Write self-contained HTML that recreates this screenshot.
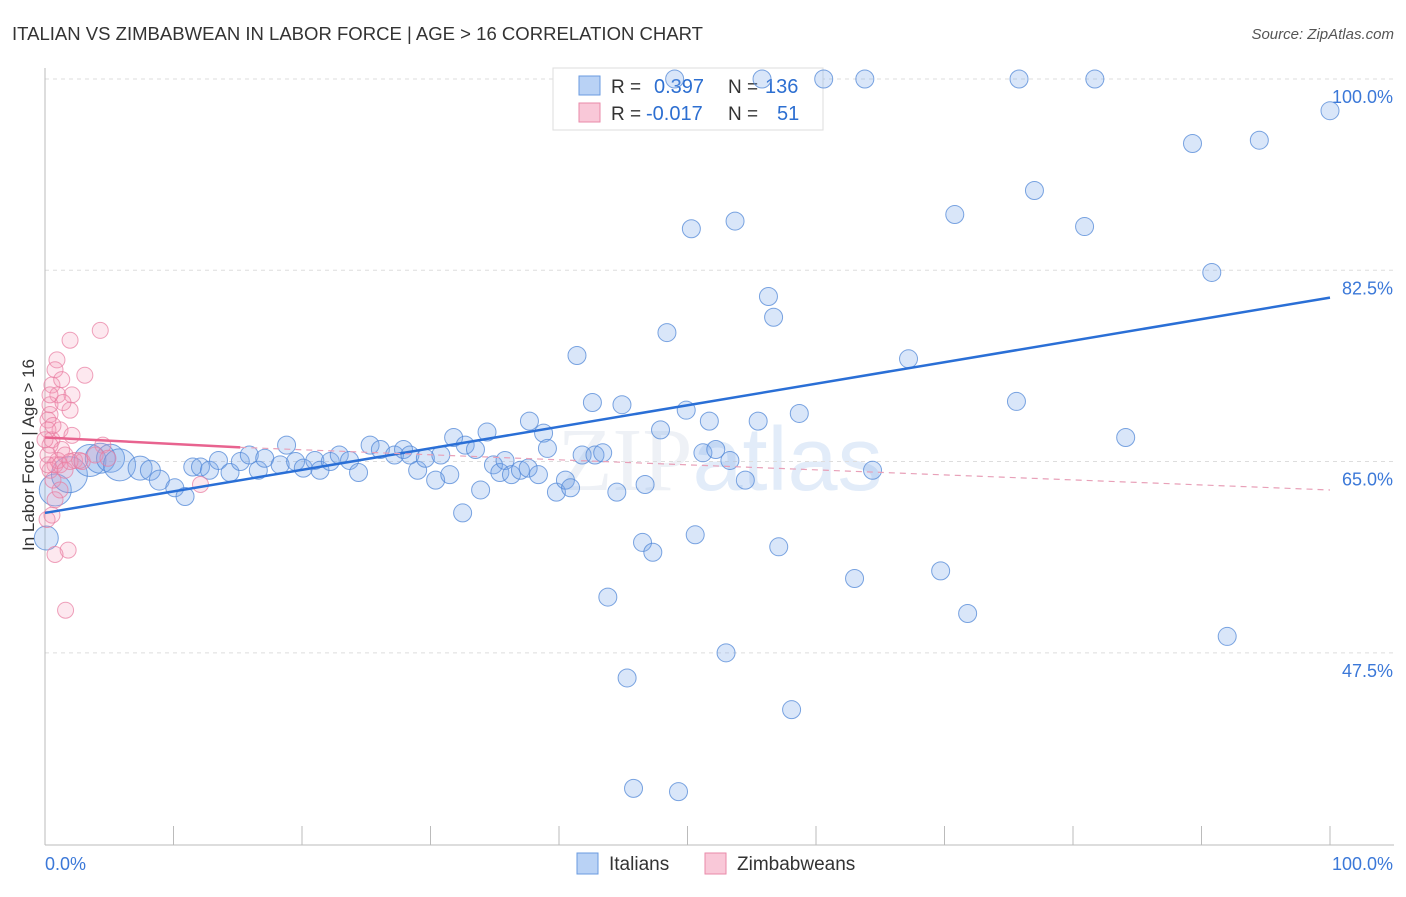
<!DOCTYPE html>
<html><head><meta charset="utf-8"><style>
body{margin:0;background:#fff;font-family:"Liberation Sans",sans-serif;}
</style></head><body>
<svg id="chart" width="1406" height="892" viewBox="0 0 1406 892" xmlns="http://www.w3.org/2000/svg" font-family="Liberation Sans, sans-serif">
<text x="12" y="40" font-size="18" fill="#333" textLength="691" lengthAdjust="spacingAndGlyphs">ITALIAN VS ZIMBABWEAN IN LABOR FORCE | AGE &gt; 16 CORRELATION CHART</text>
<text x="1394" y="39" font-size="15" fill="#555" text-anchor="end" font-style="italic">Source: ZipAtlas.com</text>
<text x="720" y="490" font-size="90" fill="#eef1f6" text-anchor="middle" font-family="Liberation Serif, serif">ZIP<tspan fill="#e2ecf9" font-family="Liberation Sans, sans-serif">atlas</tspan></text>
<g id="grid"></g><g id="axes"></g>
<g>
<rect x="553" y="68" width="270" height="62" fill="#fff" stroke="#ddd"/>
<rect x="579" y="76" width="21" height="19" fill="#b9d2f5" stroke="#6a9be0"/>
<text x="611" y="93" font-size="19" fill="#333">R =</text><text x="654" y="93" font-size="20" fill="#2d6fd1">0.397</text>
<text x="728" y="93" font-size="19" fill="#333">N =</text><text x="765" y="93" font-size="20" fill="#2d6fd1">136</text>
<rect x="579" y="103" width="21" height="19" fill="#f9c8d8" stroke="#e98aa9"/>
<text x="611" y="120" font-size="19" fill="#333">R =</text><text x="646" y="120" font-size="20" fill="#2d6fd1">-0.017</text>
<text x="728" y="120" font-size="19" fill="#333">N =</text><text x="777" y="120" font-size="20" fill="#2d6fd1">51</text>
</g>
<g id="marks"></g>
<text transform="translate(34,455) rotate(-90)" font-size="17" fill="#333" text-anchor="middle">In Labor Force | Age &gt; 16</text>
<g><rect x="577" y="853" width="21" height="21" fill="#b9d2f5" stroke="#6a9be0"/><text x="609" y="870" font-size="19" fill="#333">Italians</text></g>
<g><rect x="705" y="853" width="21" height="21" fill="#f9c8d8" stroke="#e98aa9"/><text x="737" y="870" font-size="19" fill="#333">Zimbabweans</text></g>
</svg>
<script>
const yTicks=[100,82.5,65,47.5];
const yTickLabels=["100.0%","82.5%","65.0%","47.5%"];
const xTickLabels=["0.0%","100.0%"];
const blueX=[0.1,0.8,1.9,3.5,4.3,5.1,5.8,7.4,8.2,8.9,10.1,10.9,11.5,12.1,12.8,13.5,14.4,15.2,15.9,16.6,17.1,18.3,18.8,19.5,20.1,21.0,21.4,22.2,22.9,23.7,24.4,25.3,26.1,27.2,27.9,28.4,29.0,29.6,30.4,30.8,31.5,31.8,32.5,32.7,33.5,33.9,34.4,34.9,35.4,35.8,36.3,37.0,37.6,37.7,38.4,38.8,39.1,39.8,40.5,40.9,41.4,41.8,42.6,42.8,43.4,43.8,44.5,44.9,45.3,45.8,46.5,46.7,47.3,47.9,48.4,49.3,49.9,50.3,50.6,51.2,51.7,52.2,53.0,53.3,53.7,54.5,55.5,56.3,56.7,57.1,58.1,58.7,60.6,63.0,63.8,64.4,67.2,69.7,70.8,71.8,75.6,75.8,77.0,80.9,81.7,84.1,89.3,90.8,92.0,94.5,100,49.0,55.8];
const blueY=[58.0,62.4,63.8,65.1,65.3,65.3,64.7,64.4,64.2,63.3,62.6,61.8,64.5,64.5,64.2,65.1,64.0,65.0,65.6,64.2,65.3,64.7,66.5,65.0,64.4,65.1,64.2,65.0,65.6,65.1,64.0,66.5,66.1,65.6,66.1,65.6,64.2,65.3,63.3,65.6,63.8,67.2,60.3,66.5,66.1,62.4,67.7,64.7,64.0,65.1,63.8,64.2,64.4,68.7,63.8,67.6,66.2,62.2,63.3,62.6,74.7,65.6,70.4,65.6,65.8,52.6,62.2,70.2,45.2,35.1,57.6,62.9,56.7,67.9,76.8,34.8,69.7,86.3,58.3,65.8,68.7,66.1,47.5,65.1,87.0,63.3,68.7,80.1,78.2,57.2,42.3,69.4,100,54.3,100,64.2,74.4,55.0,87.6,51.1,70.5,100,89.8,86.5,100,67.2,94.1,82.3,49.0,94.4,97.1,100,100];
const blueR=[12,16,18,16,15,14,16,12,10,10,9,9,9,9,9,9,9,9,9,9,9,9,9];
const pinkX=[0.39,0.54,0.23,0.78,0.39,0.62,0.93,0.78,0.54,1.0,0.39,0.23,1.17,1.3,1.0,1.56,1.95,2.1,1.95,2.1,3.1,4.3,4.5,1.17,0.78,0.54,1.8,0.78,1.6,12.1,0.23,0.39,0.62,1.4,0,1.17,2.3,2.9,3.9,4.9,0.39,0.23,1.56,1.95,0.16,1.3,2.7];
const pinkY=[69.3,67.0,65.6,64.7,64.2,63.3,74.3,73.4,72.0,71.1,70.2,68.8,67.9,66.1,65.1,65.6,76.1,71.1,69.7,67.4,72.9,77.0,66.5,62.4,61.5,60.1,56.9,56.5,51.4,62.9,67.9,66.5,68.3,70.4,67.0,64.7,65.1,65.0,65.6,65.3,71.1,64.7,64.2,65.0,59.7,72.5,65.1];
const blueTrend=[[0,60.3],[100,80.0]];
const pinkTrend=[[0,67.2],[15.2,66.3],[100,62.4]];
const NS="http://www.w3.org/2000/svg";
const X=v=>45+v*12.85, Y=v=>79+(100-v)*10.93;
function mk(t,a,p){const e=document.createElementNS(NS,t);for(const k in a)e.setAttribute(k,a[k]);document.getElementById(p).appendChild(e);return e;}
yTicks.forEach((t,i)=>{
 const l=mk('line',{x1:45,x2:1394,y1:Y(t),y2:Y(t),stroke:'#ddd','stroke-dasharray':'4,4'},'grid');
 
 
 const tx=mk('text',{x:1393,y:Y(t)+24,'font-size':18,fill:'#3b78d8','text-anchor':'end'},'axes');tx.textContent=yTickLabels[i];
 
 
});
let ax=mk('line',{x1:45,x2:1394,y1:845,y2:845,stroke:'#bbb'},'axes');


let ay=mk('line',{x1:45,x2:45,y1:68,y2:845,stroke:'#bbb'},'axes');


for(let i=0;i<=10;i++){const t=mk('line',{x1:X(i*10),x2:X(i*10),y1:826,y2:845,stroke:'#bbb'},'axes');
 
 }
[[0,'start'],[100,'end']].forEach((d,i)=>{const t=mk('text',{x:d[0]==0?45:1393,y:870,'font-size':18,fill:'#3b78d8','text-anchor':d[1]},'axes');t.textContent=xTickLabels[i];
 
 });
blueX.forEach((v,i)=>{const c=mk('circle',{cx:X(v),cy:Y(blueY[i]),r:blueR[i]||9,fill:'rgba(120,165,235,0.28)',stroke:'rgba(80,135,215,0.75)','stroke-width':1},'marks');
 
 });
pinkX.forEach((v,i)=>{const c=mk('circle',{cx:X(v),cy:Y(pinkY[i]),r:8,fill:'rgba(245,150,180,0.22)',stroke:'rgba(232,122,160,0.7)','stroke-width':1},'marks');
 
 });
let bl=mk('line',{x1:X(blueTrend[0][0]),y1:Y(blueTrend[0][1]),x2:X(blueTrend[1][0]),y2:Y(blueTrend[1][1]),stroke:'#2a6fd6','stroke-width':2.5},'marks');


let p1=mk('line',{x1:X(pinkTrend[0][0]),y1:Y(pinkTrend[0][1]),x2:X(pinkTrend[1][0]),y2:Y(pinkTrend[1][1]),stroke:'#e8638f','stroke-width':2.5},'marks');


let p2=mk('line',{x1:X(pinkTrend[1][0]),y1:Y(pinkTrend[1][1]),x2:X(pinkTrend[2][0]),y2:Y(pinkTrend[2][1]),stroke:'#e8a0b8','stroke-width':1.2,'stroke-dasharray':'6,5'},'marks');


</script>
</body></html>
